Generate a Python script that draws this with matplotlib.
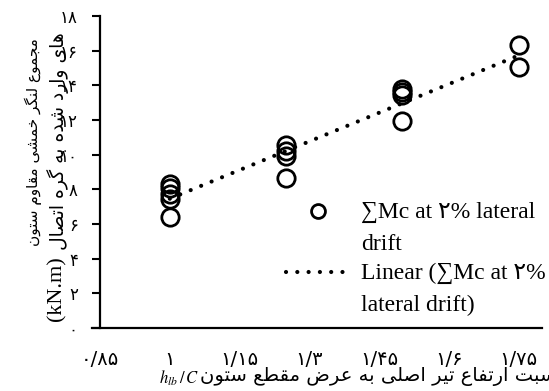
import numpy as np
import matplotlib.pyplot as plt
import matplotlib.transforms as mtrans
from matplotlib.legend_handler import HandlerLine2D

# --- data ---
x_ratio = [1.0, 1.0, 1.0, 1.0, 1.0,
           1.25, 1.25, 1.25, 1.25,
           1.5, 1.5, 1.5, 1.5,
           1.75, 1.75]
sum_mc = [8.3, 8.1, 7.75, 7.45, 6.4,
          10.55, 10.2, 9.95, 8.65,
          13.8, 13.6, 13.45, 11.95,
          16.3, 15.05]

x_ticks = [0.85, 1.0, 1.15, 1.3, 1.45, 1.6, 1.75]
x_tick_labels = ['۰/۸۵', '۱', '۱/۱۵', '۱/۳', '۱/۴۵', '۱/۶', '۱/۷۵']
y_ticks = [0, 2, 4, 6, 8, 10, 12, 14, 16, 18]
y_tick_labels = ['۰', '۲', '۴', '۶', '۸', '۱۰', '۱۲', '۱۴', '۱۶', '۱۸']

ylabel_1 = 'مجموع لنگر خمشی مقاوم ستون'
ylabel_2 = 'های وارد شده به گره اتصال'
ylabel_unit = '(kN.m)'
xlabel_fa = 'نسبت ارتفاع تیر اصلی به عرض مقطع ستون'
legend_pts = '∑Mc at ۲% lateral\ndrift'
legend_fit = 'Linear (∑Mc at ۲%\nlateral drift)'

# matplotlib does no arabic shaping, so pick the presentation forms by hand
FORMS = {
    'ا': ('\uFE8D', '\uFE8E'), 'د': ('\uFEA9', '\uFEAA'),
    'ر': ('\uFEAD', '\uFEAE'), 'و': ('\uFEED', '\uFEEE'),
    'ب': ('\uFE8F', '\uFE90', '\uFE91', '\uFE92'),
    'ت': ('\uFE95', '\uFE96', '\uFE97', '\uFE98'),
    'ج': ('\uFE9D', '\uFE9E', '\uFE9F', '\uFEA0'),
    'خ': ('\uFEA5', '\uFEA6', '\uFEA7', '\uFEA8'),
    'س': ('\uFEB1', '\uFEB2', '\uFEB3', '\uFEB4'),
    'ش': ('\uFEB5', '\uFEB6', '\uFEB7', '\uFEB8'),
    'ص': ('\uFEB9', '\uFEBA', '\uFEBB', '\uFEBC'),
    'ض': ('\uFEBD', '\uFEBE', '\uFEBF', '\uFEC0'),
    'ط': ('\uFEC1', '\uFEC2', '\uFEC3', '\uFEC4'),
    'ع': ('\uFEC9', '\uFECA', '\uFECB', '\uFECC'),
    'ف': ('\uFED1', '\uFED2', '\uFED3', '\uFED4'),
    'ق': ('\uFED5', '\uFED6', '\uFED7', '\uFED8'),
    'ل': ('\uFEDD', '\uFEDE', '\uFEDF', '\uFEE0'),
    'م': ('\uFEE1', '\uFEE2', '\uFEE3', '\uFEE4'),
    'ن': ('\uFEE5', '\uFEE6', '\uFEE7', '\uFEE8'),
    'ه': ('\uFEE9', '\uFEEA', '\uFEEB', '\uFEEC'),
    'ی': ('\uFBFC', '\uFBFD', '\uFBFE', '\uFBFF'),
    'گ': ('\uFB92', '\uFB93', '\uFB94', '\uFB95'),
}


def fa(s):
    """shape persian text and reverse it into visual order"""
    out = []
    for i, ch in enumerate(s):
        f = FORMS.get(ch)
        if f is None:
            out.append(ch)
            continue
        prev = s[i - 1] if i > 0 else ''
        nxt = s[i + 1] if i + 1 < len(s) else ''
        join_prev = prev in FORMS and len(FORMS[prev]) == 4
        join_next = len(f) == 4 and nxt in FORMS
        out.append(f[(1 if join_prev else 0) + (2 if join_next else 0)])
    return ''.join(reversed(out))


class FirstLineHandler(HandlerLine2D):
    """legend handle lined up with the first line of a wrapped label"""
    def create_artists(self, legend, orig_handle, xdescent, ydescent,
                       width, height, fontsize, trans):
        trans = mtrans.Affine2D().translate(0, 12.5) + trans
        return super().create_artists(legend, orig_handle, xdescent, ydescent,
                                      width, height, fontsize, trans)


plt.rcParams['font.family'] = ['Liberation Serif', 'DejaVu Sans']
plt.rcParams['mathtext.fontset'] = 'stix'

W, H = 549, 391
fig = plt.figure(figsize=(W / 100, H / 100), dpi=100)
ax = fig.add_axes([100 / W, 1 - 328 / H, 442 / W, 312 / H])

pts, = ax.plot(x_ratio, sum_mc, 'o', ms=12.5, mfc='none', mec='black',
               mew=2.0, label=legend_pts, zorder=2)

# excel style linear trendline
k, b = np.polyfit(x_ratio, sum_mc, 1)
xf = np.array([min(x_ratio), max(x_ratio)])
fit, = ax.plot(xf, k * xf + b, color='black', lw=3, ls=(0, (0.01, 2.7)),
               dash_capstyle='round', label=legend_fit, zorder=3)

ax.set_xlim(0.85, 1.8)
ax.set_ylim(0, 18)
ax.set_xticks(x_ticks)
ax.set_xticklabels(x_tick_labels, family='DejaVu Sans', fontsize=14)
ax.set_yticks(y_ticks)
ax.set_yticklabels(y_tick_labels, family='DejaVu Sans', fontsize=12)
ax.tick_params(axis='x', length=0, pad=16)
ax.tick_params(axis='y', length=6, width=1.5, pad=10, direction='out')

for s in ['top', 'right']:
    ax.spines[s].set_visible(False)
for s in ['left', 'bottom']:
    ax.spines[s].set_linewidth(1.6)
ax.spines['bottom'].set_bounds(0.833, 1.8)

# axis titles
fig.text(33 / W, 1 - 142 / H, fa(ylabel_1), rotation=90, ha='center',
         va='center', family='DejaVu Sans', fontsize=11)
fig.text(58 / W, 1 - 141 / H, fa(ylabel_2), rotation=90, ha='center',
         va='center', family='DejaVu Sans', fontsize=13.5)
fig.text(57 / W, 1 - 289 / H, ylabel_unit, rotation=90, ha='center',
         va='center', fontsize=16)
fig.text(200 / W, 1 - 377 / H, fa(xlabel_fa), ha='left', va='center',
         family='DejaVu Sans', fontsize=14)
fig.text(199 / W, 1 - 378 / H, r'$h_{lb}\,/\,C$', ha='right', va='center',
         fontsize=12)

leg = ax.legend(handles=[pts, fit], loc='upper left',
                bbox_to_anchor=(286 / W, 1 - 202 / H),
                bbox_transform=fig.transFigure, frameon=False, fontsize=17,
                handlelength=2.75, handletextpad=0.42, labelspacing=0.3,
                borderpad=0, borderaxespad=0, markerscale=0.8,
                handler_map={pts: FirstLineHandler(), fit: FirstLineHandler()})
for t in leg.get_texts():
    t.set_linespacing(1.7)

fig.savefig('out.png', dpi=100)
